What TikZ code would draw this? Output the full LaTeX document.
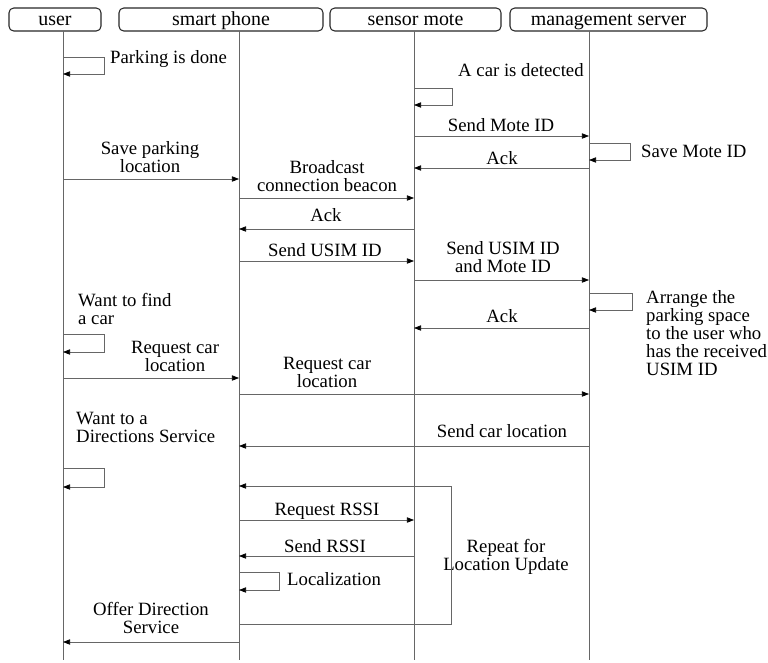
\documentclass[tikz,border=0pt]{standalone}
\usepackage{fontspec}
\setmainfont{Liberation Serif}
\usetikzlibrary{arrows.meta}

\tikzset{
  head/.style={draw=black!85, line width=0.9pt, rounded corners=4pt, inner sep=0pt,
    text height=15.3pt, text depth=4.3pt, font=\fontsize{17}{17}\selectfont},
  life/.style={draw=black!60, line width=0.6pt},
  msg/.style={draw=black!60, line width=0.6pt, -{Triangle[length=6pt,width=4.5pt,color=black]}},
  lbl/.style={inner sep=0pt, anchor=base, align=center, font=\fontsize{16}{15.3}\selectfont},
  lblw/.style={lbl, anchor=base west, align=left},
}

\begin{document}
\begin{tikzpicture}[x=0.03cm, y=-0.03cm]
  \useasboundingbox (0,0) rectangle (768,662);

  \node[head, minimum width=2.76cm] (User) at (55,19.5) {user};
  \node[head, minimum width=6.12cm] (Phone) at (221,19.5) {smart phone};
  \node[head, minimum width=5.13cm] (Mote) at (415.5,19.5) {sensor mote};
  \node[head, minimum width=5.91cm] (Server) at (608.5,19.5) {management server};

  \coordinate (UserTop) at (63,31);    \coordinate (UserEnd) at (63,660);
  \coordinate (PhoneTop) at (239,31);  \coordinate (PhoneEnd) at (239,660);
  \coordinate (MoteTop) at (414,31);   \coordinate (MoteEnd) at (414,660);
  \coordinate (ServerTop) at (589,31); \coordinate (ServerEnd) at (589,660);

  % self messages
  \coordinate (User1a) at (63,57);    \coordinate (User1b) at (104,57);  \coordinate (User1c) at (63,74);
  \coordinate (Mote2a) at (414,88);   \coordinate (Mote2b) at (452,88);  \coordinate (Mote2c) at (414,105);
  \coordinate (Server4a) at (589,143); \coordinate (Server4b) at (630,143); \coordinate (Server4c) at (589,160);
  \coordinate (Server11a) at (589,293); \coordinate (Server11b) at (632,293); \coordinate (Server11c) at (589,310);
  \coordinate (User13a) at (63,334);  \coordinate (User13b) at (104,334); \coordinate (User13c) at (63,352);
  \coordinate (User18a) at (63,468);  \coordinate (User18b) at (104,468); \coordinate (User18c) at (63,487);
  \coordinate (Phone22a) at (239,572); \coordinate (Phone22b) at (279,572); \coordinate (Phone22c) at (239,590);
  \coordinate (Phone19a) at (239,624); \coordinate (Phone19b) at (451,624); \coordinate (Phone19c) at (239,486);

  % messages between lifelines
  \coordinate (Mote3) at (414,136);   \coordinate (Server3) at (589,136);
  \coordinate (Server5) at (589,168); \coordinate (Mote5) at (414,168);
  \coordinate (User6) at (63,179);    \coordinate (Phone6) at (239,179);
  \coordinate (Phone7) at (239,198);  \coordinate (Mote7) at (414,198);
  \coordinate (Mote8) at (414,229);   \coordinate (Phone8) at (239,229);
  \coordinate (Phone9) at (239,261);  \coordinate (Mote9) at (414,261);
  \coordinate (Mote10) at (414,280);  \coordinate (Server10) at (589,280);
  \coordinate (Server12) at (589,328); \coordinate (Mote12) at (414,328);
  \coordinate (User14) at (63,378);   \coordinate (Phone14) at (239,378);
  \coordinate (Phone15) at (239,394); \coordinate (Server15) at (589,394);
  \coordinate (Server17) at (589,446); \coordinate (Phone17) at (239,446);
  \coordinate (Phone20) at (239,520); \coordinate (Mote20) at (414,520);
  \coordinate (Mote21) at (414,556);  \coordinate (Phone21) at (239,556);
  \coordinate (Phone23) at (239,642); \coordinate (User23) at (63,642);

  \node[lblw] (Lbl1) at (110,63) {Parking is done};
  \node[lblw] (Lbl2) at (458,76) {A car is detected};
  \node[lbl] (Lbl3) at (501,131) {Send Mote ID};
  \node[lblw] (Lbl4) at (641,157) {Save Mote ID};
  \node[lbl] (Lbl5) at (502,164) {Ack};
  \node[lbl] (Lbl6) at (150,172) {Save parking\\location};
  \node[lbl] (Lbl7) at (327,191) {Broadcast\\connection beacon};
  \node[lbl] (Lbl8) at (326,221) {Ack};
  \node[lbl] (Lbl9) at (325,256) {Send USIM ID};
  \node[lbl] (Lbl10) at (503,272) {Send USIM ID\\and Mote ID};
  \node[lblw] (Lbl11) at (646,375) {Arrange the\\parking space\\to the user who\\has the received\\USIM ID};
  \node[lbl] (Lbl12) at (502,322) {Ack};
  \node[lblw] (Lbl13) at (78,324) {Want to find\\a car};
  \node[lbl] (Lbl14) at (175,371) {Request car\\location};
  \node[lbl] (Lbl15) at (327,387) {Request car\\location};
  \node[lblw] (Lbl16) at (76,442) {Want to a\\Directions Service};
  \node[lbl] (Lbl17) at (502,437) {Send car location};
  \node[lbl] (Lbl19) at (506,570) {Repeat for\\Location Update};
  \node[lbl] (Lbl20) at (327,515) {Request RSSI};
  \node[lbl] (Lbl21) at (325,552) {Send RSSI};
  \node[lblw] (Lbl22) at (287,585) {Localization};
  \node[lbl] (Lbl23) at (151,633) {Offer Direction\\Service};

  \draw[life] (UserTop) -- (UserEnd) (PhoneTop) -- (PhoneEnd)
              (MoteTop) -- (MoteEnd) (ServerTop) -- (ServerEnd);

  \draw[msg] (User1a) -- (User1b) |- (User1c);
  \draw[msg] (Mote2a) -- (Mote2b) |- (Mote2c);
  \draw[msg] (Mote3) -- (Server3);
  \draw[msg] (Server4a) -- (Server4b) |- (Server4c);
  \draw[msg] (Server5) -- (Mote5);
  \draw[msg] (User6) -- (Phone6);
  \draw[msg] (Phone7) -- (Mote7);
  \draw[msg] (Mote8) -- (Phone8);
  \draw[msg] (Phone9) -- (Mote9);
  \draw[msg] (Mote10) -- (Server10);
  \draw[msg] (Server11a) -- (Server11b) |- (Server11c);
  \draw[msg] (Server12) -- (Mote12);
  \draw[msg] (User13a) -- (User13b) |- (User13c);
  \draw[msg] (User14) -- (Phone14);
  \draw[msg] (Phone15) -- (Server15);
  \draw[msg] (Server17) -- (Phone17);
  \draw[msg] (User18a) -- (User18b) |- (User18c);
  \draw[msg] (Phone19a) -- (Phone19b) |- (Phone19c);
  \draw[msg] (Phone20) -- (Mote20);
  \draw[msg] (Mote21) -- (Phone21);
  \draw[msg] (Phone22a) -- (Phone22b) |- (Phone22c);
  \draw[msg] (Phone23) -- (User23);
\end{tikzpicture}
\end{document}
